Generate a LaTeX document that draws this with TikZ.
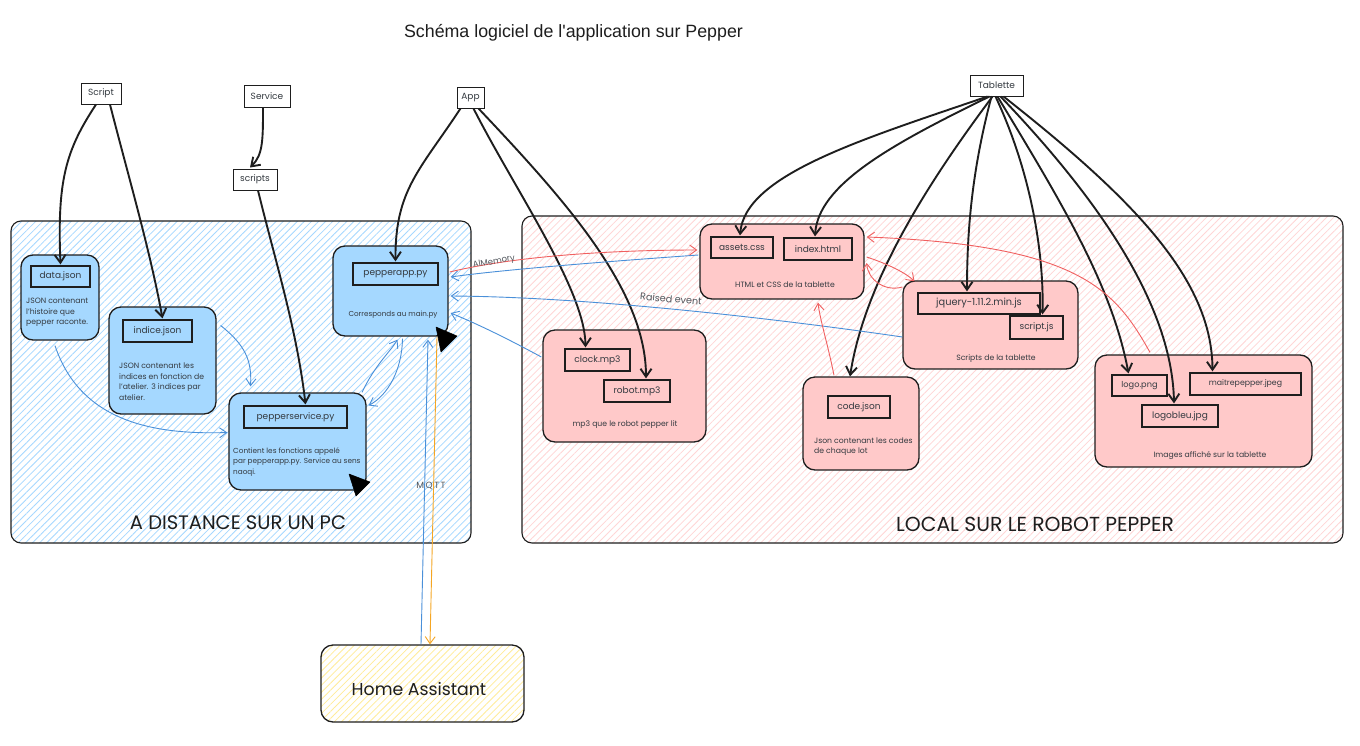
\documentclass[tikz,border=0pt]{standalone}
\usepackage{fontspec}
\setmainfont{Poppins}
\newfontfamily\titlefont{Liberation Sans}
\usetikzlibrary{arrows.meta,patterns.meta,calc}
\definecolor{ink}{HTML}{1E1E1E}
\definecolor{txt}{HTML}{343A40}
\definecolor{blueF}{HTML}{A5D8FF}
\definecolor{blueH}{HTML}{A5D8FF}
\definecolor{pinkF}{HTML}{FFC9C9}
\definecolor{pinkH}{HTML}{FFD6D6}
\definecolor{yelH}{HTML}{FFEC99}
\definecolor{arBlue}{HTML}{4A90D9}
\definecolor{arRed}{HTML}{F06060}
\definecolor{arOrange}{HTML}{F5A623}
\begin{document}
\begin{tikzpicture}[x=1pt,y=-1pt,
  panel/.style={draw=ink,line width=1.1pt,rounded corners=10pt,inner sep=0pt},
  bbox/.style={draw=ink,line width=1.3pt,fill=blueF,rounded corners=12pt,inner sep=0pt},
  pbox/.style={draw=ink,line width=1.3pt,fill=pinkF,rounded corners=12pt,inner sep=0pt},
  inbox/.style={draw=ink,line width=1.2pt,inner sep=0pt,font=\fontsize{9}{10}\selectfont,text=txt},
  lbl/.style={draw=ink,line width=1pt,fill=white,inner sep=0pt,font=\fontsize{9}{10}\selectfont,text=txt},
  desc/.style={inner sep=0pt,align=left,font=\fontsize{7.7}{10.4}\selectfont,text=txt},
  cdesc/.style={inner sep=0pt,align=center,font=\fontsize{7.7}{10}\selectfont,text=txt},
  elbl/.style={inner sep=0pt,font=\fontsize{9}{10}\selectfont,text=txt!85},
  blk/.style={draw=ink,line width=1.9pt,-{Straight Barb[length=8pt,width=11pt,line width=1.9pt]}},
  blu/.style={draw=arBlue,line width=0.9pt,-{Straight Barb[length=7pt,width=10pt,line width=0.9pt]}},
  red/.style={draw=arRed,line width=0.9pt,-{Straight Barb[length=7pt,width=10pt,line width=0.9pt]}},
  org/.style={draw=arOrange,line width=0.9pt,-{Straight Barb[length=7pt,width=10pt,line width=0.9pt]}},
  cursor/.style={fill=black,draw=black,line width=0.5pt,line join=round}
]
\useasboundingbox[fill=white] (0,0) rectangle (1360,745);

% title
\node[inner sep=0pt,font=\titlefont\fontsize{17.8}{20}\selectfont,text=ink] (title) at (573.5,33) {Schéma logiciel de l'application sur Pepper};

% panels
\node[panel,pattern={Lines[angle=45,distance=5pt,line width=0.8pt]},pattern color=blueH,minimum width=460,minimum height=322] (pc) at (241,382) {};
\node[panel,pattern={Lines[angle=45,distance=5pt,line width=0.8pt]},pattern color=pinkH,minimum width=821,minimum height=327] (robot) at (932.5,379.5) {};
\node[inner sep=0pt,font=\fontsize{19.5}{21}\selectfont,text=ink] (pclbl) at (238,523) {A DISTANCE SUR UN PC};
\node[inner sep=0pt,font=\fontsize{20.3}{22}\selectfont,text=ink] (robotlbl) at (1035,524) {LOCAL SUR LE ROBOT PEPPER};

% home assistant
\node[panel,line width=1.3pt,rounded corners=12pt,pattern={Lines[angle=45,distance=5pt,line width=0.8pt]},pattern color=yelH,minimum width=203,minimum height=77] (ha) at (422.5,683.5) {};
\node[inner sep=0pt,font=\fontsize{17.3}{19}\selectfont,text=ink] (hatxt) at (419,689) {Home Assistant};

% top labels
\node[lbl,minimum width=40,minimum height=21] (Script) at (101,93.5) {Script};
\node[lbl,minimum width=46,minimum height=22] (Service) at (267,96) {Service};
\node[lbl,minimum width=44,minimum height=21] (scripts) at (255,179.5) {scripts};
\node[lbl,minimum width=27,minimum height=21] (App) at (470.5,97.5) {App};
\node[lbl,minimum width=53,minimum height=21] (Tablette) at (996.5,85.5) {Tablette};

% left boxes
\node[bbox,minimum width=78,minimum height=85] (data) at (60,297.5) {};
\node[inbox,minimum width=59,minimum height=21] (datain) at (60.5,276.5) {data.json};
\node[desc,anchor=north west] (datadesc) at (26,298) {JSON contenant\\l'histoire que\\pepper raconte.};

\node[bbox,minimum width=107,minimum height=107] (indice) at (162.5,360.5) {};
\node[inbox,minimum width=69,minimum height=22] (indicein) at (157.5,331) {indice.json};
\node[desc,anchor=north west] (indicedesc) at (119,363) {JSON contenant les\\indices en fonction de\\l'atelier. 3 indices par\\atelier.};

\node[bbox,minimum width=115,minimum height=90] (papp) at (390.5,291) {};
\node[inbox,minimum width=85,minimum height=22] (pappin) at (395.5,274) {pepperapp.py};
\node[cdesc,font=\fontsize{7.2}{10}\selectfont] (pappdesc) at (393,315) {Corresponds au main.py};

\node[bbox,minimum width=137,minimum height=97] (psvc) at (297.5,441.5) {};
\node[inbox,minimum width=103,minimum height=22] (psvcin) at (295.5,417) {pepperservice.py};
\node[desc,anchor=north west,font=\fontsize{7.3}{10.4}\selectfont] (psvcdesc) at (233,447.5) {Contient les fonctions appelé\\par pepperapp.py. Service au sens\\naoqi.};

% right boxes
\node[pbox,minimum width=164,minimum height=75] (html) at (782,261.5) {};
\node[inbox,minimum width=62,minimum height=21] (assets) at (742,247.5) {assets.css};
\node[inbox,minimum width=68,minimum height=22] (index) at (818,249) {index.html};
\node[cdesc] (htmldesc) at (785,285) {HTML et CSS de la tablette};

\node[pbox,minimum width=175,minimum height=88] (js) at (990.5,325) {};
\node[inbox,minimum width=122,minimum height=21,font=\fontsize{9.8}{10}\selectfont] (jquery) at (979,303.5) {jquery-1.11.2.min.js};
\node[inbox,minimum width=53,minimum height=23] (scriptjs) at (1036.5,327.5) {script.js};
\node[cdesc] (jsdesc) at (996,359) {Scripts de la tablette};

\node[pbox,minimum width=163,minimum height=112] (mp3) at (624.5,386) {};
\node[inbox,minimum width=65,minimum height=22] (clock) at (597.5,360) {clock.mp3};
\node[inbox,minimum width=66,minimum height=22] (robotmp3) at (637,391) {robot.mp3};
\node[cdesc] (mp3desc) at (625,425) {mp3 que le robot pepper lit};

\node[pbox,minimum width=116,minimum height=93] (code) at (861,423.5) {};
\node[inbox,minimum width=62,minimum height=22] (codein) at (859,407) {code.json};
\node[desc,anchor=north west] (codedesc) at (814,437.5) {Json contenant les codes\\de chaque lot};

\node[pbox,minimum width=217,minimum height=112] (img) at (1203.5,411) {};
\node[inbox,minimum width=55,minimum height=21,font=\fontsize{8.2}{10}\selectfont] (logo) at (1139.5,385.5) {logo.png};
\node[inbox,minimum width=111,minimum height=22,font=\fontsize{7.8}{10}\selectfont] (maitre) at (1245.5,384) {maitrepepper.jpeg};
\node[inbox,minimum width=76,minimum height=22] (logobleu) at (1180,416) {logobleu.jpg};
\node[cdesc] (imgdesc) at (1210,456) {Images affiché sur la tablette};

% black arrows
\draw[blk] ([shift={(-5,0)}]Script.south) .. controls (66,150) and (57,180) .. ([shift={(0,-1)}]datain.north);
\draw[blk] ([shift={(9,0)}]Script.south) .. controls (128,175) and (150,250) .. ([shift={(5,-1)}]indicein.north);
\draw[blk] ([shift={(-4,0)}]Service.south) .. controls (263,140) and (263,155) .. ([shift={(-5,-1)}]scripts.north);
\draw[blk] ([shift={(3,0)}]scripts.south) .. controls (275,260) and (297,330) .. ([shift={(10,-1)}]psvcin.north);
\draw[blk] ([shift={(-10,0)}]App.south) .. controls (420,170) and (395,190) .. ([shift={(0,-1)}]pappin.north);
\draw[blk] ([shift={(3,0)}]App.south) .. controls (515,190) and (585,290) .. ([shift={(-12,-1)}]clock.north);
\draw[blk] ([shift={(8,0)}]App.south) .. controls (565,200) and (646,290) .. ([shift={(9,-1)}]robotmp3.north);
\draw[blk] ([shift={(-9,0)}]Tablette.south) .. controls (860,140) and (745,175) .. ([shift={(-2,-1)}]assets.north);
\draw[blk] ([shift={(-7,0)}]Tablette.south) .. controls (890,145) and (818,185) .. ([shift={(-3,-1)}]index.north);
\draw[blk] ([shift={(-5,0)}]Tablette.south) .. controls (972,170) and (967,230) .. ([shift={(-12,-1)}]jquery.north);
\draw[blk] ([shift={(-4,0)}]Tablette.south) .. controls (930,180) and (865,280) .. ([shift={(-11,0)}]code.north);
\draw[blk] ([shift={(-1,0)}]Tablette.south) .. controls (1030,170) and (1044,250) .. ([shift={(6,-1)}]scriptjs.north);
\draw[blk] ([shift={(1,0)}]Tablette.south) .. controls (1060,200) and (1112,285) .. ([shift={(-11,-1)}]logo.north);
\draw[blk] ([shift={(4,0)}]Tablette.south) .. controls (1090,190) and (1172,300) .. ([shift={(-6,-1)}]logobleu.north);
\draw[blk] ([shift={(7,0)}]Tablette.south) .. controls (1135,200) and (1212,280) .. ([shift={(-33,-1)}]maitre.north);

% blue arrows
\draw[blu] ([shift={(-5,5)}]data.south) .. controls (80,420) and (150,435) .. ([shift={(-1,-9)}]psvc.west);
\draw[blu] ([shift={(4,-35)}]indice.east) .. controls (245,345) and (252,360) .. ([shift={(-47,-6)}]psvc.north);
\draw[blu] ([shift={(64.5,0)}]psvc.north) .. controls (375,365) and (390,352) .. ([shift={(7,3)}]papp.south);
\draw[blu] ([shift={(12,2)}]papp.south) .. controls (402,370) and (388,395) .. ([shift={(2,-36)}]psvc.east);
\draw[blu] ([shift={(-1,-6.5)}]html.west) .. controls (600,262) and (500,270) .. ([shift={(2,-14)}]papp.east);
\draw[blu] ([shift={(0,12)}]js.west) .. controls (800,322) and (600,297) .. ([shift={(2,5)}]papp.east);
\draw[blu] ([shift={(-1,-29)}]mp3.west) .. controls (510,340) and (480,325) .. ([shift={(2,22)}]papp.east);
\draw[blu] ([shift={(-1.5,0)}]ha.north) -- ([shift={(37.5,3)}]papp.south);
\draw[org] ([shift={(46.5,0)}]papp.south) -- ([shift={(7.5,0)}]ha.north);

% red arrows
\draw[red] ([shift={(1,-19)}]papp.east) .. controls (520,255) and (620,250) .. ([shift={(-2,-11.5)}]html.west);
\draw[red] ([shift={(2,-4.5)}]html.east) .. controls (885,263) and (905,272) .. ([shift={(-76,1)}]js.north);
\draw[red] ([shift={(0,-38)}]js.west) .. controls (885,292) and (868,280) .. ([shift={(2,1.5)}]html.east);
\draw[red] ([shift={(-27,-1)}]code.north) .. controls (828,345) and (820,320) .. ([shift={(36,3)}]html.south);
\draw[red] ([shift={(-53.5,-2)}]img.north) .. controls (1115,290) and (1080,245) .. ([shift={(2,-24.5)}]html.east);

% edge labels
\node[elbl,rotate=10,font=\fontsize{8.5}{10}\selectfont] (almem) at (494,262) {AlMemory};
\node[elbl,rotate=-5,font=\fontsize{9.6}{10}\selectfont] (raised) at (671,299) {Raised event};
\node[elbl,font=\fontsize{9}{10}\selectfont] (mqtt) at (431,486) {M\,Q\,T\,T};

% cursor marks
\fill[cursor] (436,327) -- (457,336) -- (441,352) -- cycle;
\fill[cursor] (349,474) -- (370,482) -- (356,496) -- cycle;
\end{tikzpicture}
\end{document}
